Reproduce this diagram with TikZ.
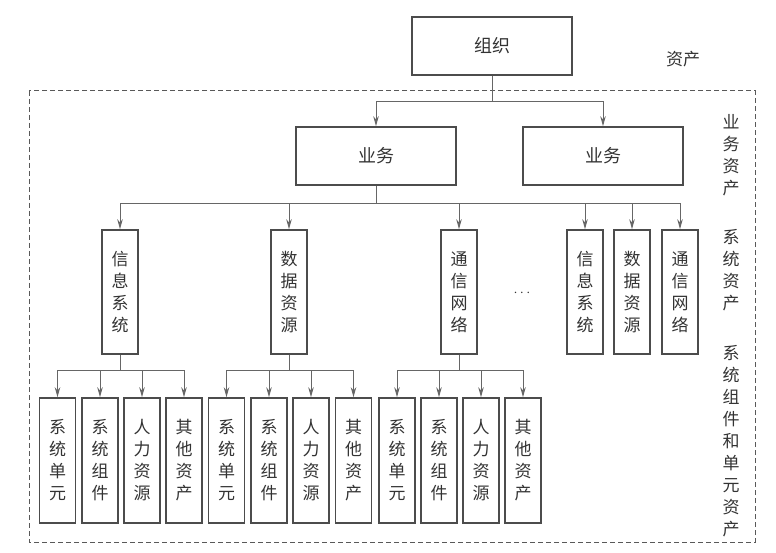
\documentclass[tikz,border=0pt]{standalone}
\usepackage{fontspec}
\setmainfont{Noto Sans CJK SC}
\usetikzlibrary{arrows.meta}

\begin{document}
\begin{tikzpicture}[x=1pt,y=-1pt,>={Stealth[length=10pt,width=5.5pt]},
 box/.style={draw=black!70,line width=1.6pt,minimum width=160pt,minimum height=58pt,text=black!80,font=\fontsize{18}{22}\selectfont},
 vbox/.style={draw=black!70,line width=1.6pt,minimum width=36pt,minimum height=124pt,inner sep=0pt,align=center,text=black!80,font=\fontsize{17}{22}\selectfont},
 side/.style={align=center,inner sep=0pt,text=black!80,font=\fontsize{17}{22}\selectfont},
 conn/.style={->,draw=black!60,line width=1pt}]
\useasboundingbox (0,0) rectangle (776,553);
\draw[black!65,line width=1pt,dash pattern=on 5pt off 3pt] (29,91) rectangle (755,542);
\node[box] (org) at (492,46) {组织};
\node[box] (biz1) at (376,156) {业务};
\node[box] (biz2) at (603,156) {业务};
\node[vbox] (sys1) at (120,292) {信\\息\\系\\统};
\node[vbox] (sys2) at (289,292) {数\\据\\资\\源};
\node[vbox] (sys3) at (459,292) {通\\信\\网\\络};
\node[vbox] (sys4) at (585,292) {信\\息\\系\\统};
\node[vbox] (sys5) at (632,292) {数\\据\\资\\源};
\node[vbox] (sys6) at (680,292) {通\\信\\网\\络};
\node[side] (more) at (522,293) {\Large$\cdots$};
\node[vbox,minimum height=125pt] (u1) at (57.5,460.5) {系\\统\\单\\元};
\node[vbox,minimum height=125pt] (u2) at (100,460.5) {系\\统\\组\\件};
\node[vbox,minimum height=125pt] (u3) at (142,460.5) {人\\力\\资\\源};
\node[vbox,minimum height=125pt] (u4) at (184,460.5) {其\\他\\资\\产};
\node[vbox,minimum height=125pt] (u5) at (226.5,460.5) {系\\统\\单\\元};
\node[vbox,minimum height=125pt] (u6) at (269,460.5) {系\\统\\组\\件};
\node[vbox,minimum height=125pt] (u7) at (311,460.5) {人\\力\\资\\源};
\node[vbox,minimum height=125pt] (u8) at (353.5,460.5) {其\\他\\资\\产};
\node[vbox,minimum height=125pt] (u9) at (397,460.5) {系\\统\\单\\元};
\node[vbox,minimum height=125pt] (u10) at (439,460.5) {系\\统\\组\\件};
\node[vbox,minimum height=125pt] (u11) at (481,460.5) {人\\力\\资\\源};
\node[vbox,minimum height=125pt] (u12) at (523,460.5) {其\\他\\资\\产};
% labels on the right
\node[side] (tAll) at (683,59) {资产};
\node[side] (tBiz) at (731,155) {业\\务\\资\\产};
\node[side] (tSys) at (731,270) {系\\统\\资\\产};
\node[side] (tUnit) at (731,441) {系\\统\\组\\件\\和\\单\\元\\资\\产};
% branch points
\coordinate (j0) at (492,102);
\coordinate (j1) at (376,204);
\coordinate (k1) at (120,370);
\coordinate (k2) at (289,370);
\coordinate (k3) at (459,370);
\draw[conn] (org.south) -- (j0) -| (biz1.north);
\draw[conn] (j0) -| (biz2.north);
\draw[conn] (biz1.south) -- (j1) -| (sys1.north);
\draw[conn] (j1) -| (sys2.north);
\draw[conn] (j1) -| (sys3.north);
\draw[conn] (j1) -| (sys4.north);
\draw[conn] (j1) -| (sys5.north);
\draw[conn] (j1) -| (sys6.north);
\draw[conn] (sys1.south) -- (k1) -| (u1.north);
\draw[conn] (k1) -| (u2.north);
\draw[conn] (k1) -| (u3.north);
\draw[conn] (k1) -| (u4.north);
\draw[conn] (sys2.south) -- (k2) -| (u5.north);
\draw[conn] (k2) -| (u6.north);
\draw[conn] (k2) -| (u7.north);
\draw[conn] (k2) -| (u8.north);
\draw[conn] (sys3.south) -- (k3) -| (u9.north);
\draw[conn] (k3) -| (u10.north);
\draw[conn] (k3) -| (u11.north);
\draw[conn] (k3) -| (u12.north);
\end{tikzpicture}
\end{document}
